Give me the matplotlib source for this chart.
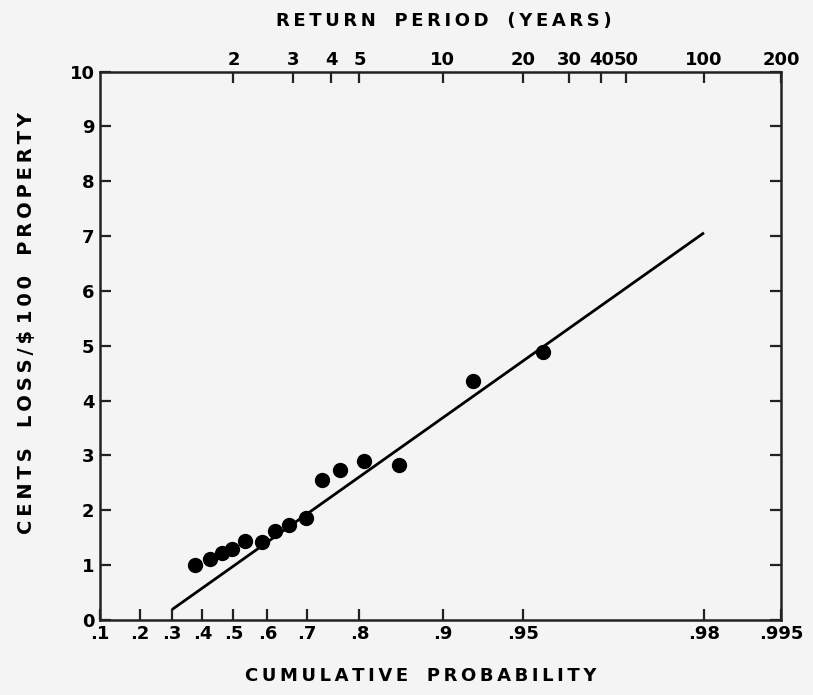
import numpy as np
import matplotlib.pyplot as plt

# valores (probabilidade acumulada x perda)
prob = [0.377, 0.424, 0.463, 0.494, 0.535, 0.584, 0.620, 0.656, 0.697,
        0.731, 0.767, 0.808, 0.855, 0.923, 0.958]
loss = [1.01, 1.12, 1.22, 1.30, 1.44, 1.43, 1.62, 1.73, 1.86,
        2.56, 2.73, 2.90, 2.82, 4.36, 4.89]

# reta ajustada (extremos)
fit_prob = [0.30, 0.99]
fit_loss = [0.19, 7.06]

prob_ticks = [0.1, 0.2, 0.3, 0.4, 0.5, 0.6, 0.7, 0.8, 0.9, 0.95, 0.99, 0.995]
prob_labels = ['.1', '.2', '.3', '.4', '.5', '.6', '.7', '.8', '.9', '.95', '.98', '.995']
period_ticks = [2, 3, 4, 5, 10, 20, 30, 40, 50, 100, 200]
period_labels = ['2', '3', '4', '5', '10', '20', '30', '40', '50', '100', '200']
loss_ticks = [0, 1, 2, 3, 4, 5, 6, 7, 8, 9, 10]


# escala de Gumbel (variavel reduzida)
def gumbel(p):
    p = np.clip(np.asarray(p, dtype=float), 1e-9, 1 - 1e-9)
    return -np.log(-np.log(p))


def gumbel_inv(y):
    return np.exp(-np.exp(-np.asarray(y, dtype=float)))


# espaco fino entre as letras, para imitar o letreiro espacado
def espacar(txt):
    return '\u2009'.join(txt)


plt.rcParams['font.family'] = 'DejaVu Sans'
plt.rcParams['font.weight'] = 'bold'

fig = plt.figure(figsize=(8.13, 6.95), dpi=100, facecolor='#f4f4f4')
ax = fig.add_axes([0.123, 0.108, 0.838, 0.789])
ax.set_facecolor('#f4f4f4')
ax.set_xscale('function', functions=(gumbel, gumbel_inv))
ax.set_xlim(0.1, 0.995)
ax.set_ylim(0, 10)

ax.plot(fit_prob, fit_loss, color='black', lw=2.0, solid_capstyle='butt')
ax.plot(prob, loss, 'o', color='black', ms=10, zorder=3)

for s in ax.spines.values():
    s.set_linewidth(1.8)
    s.set_color('#222222')

ax.set_xticks(prob_ticks)
ax.set_xticklabels(prob_labels)
ax.xaxis.set_minor_locator(plt.NullLocator())
ax.set_yticks(loss_ticks)
ax.set_yticklabels([str(v) for v in loss_ticks])
ax.tick_params(axis='both', direction='in', length=8, width=1.6,
               labelsize=13, pad=4, color='#222222')
ax.tick_params(axis='y', right=True)

# eixo superior: periodo de retorno
top = ax.twiny()
top.set_xscale('function', functions=(gumbel, gumbel_inv))
top.set_xlim(ax.get_xlim())
top.set_xticks([1 - 1 / t for t in period_ticks])
top.set_xticklabels(period_labels)
top.xaxis.set_minor_locator(plt.NullLocator())
top.tick_params(axis='x', direction='in', length=8, width=1.6,
                labelsize=13, pad=2, color='#222222')
for s in top.spines.values():
    s.set_visible(False)

fig.text(0.546, 0.970, espacar('RETURN') + '   ' + espacar('PERIOD') + '   ' + espacar('(YEARS)'),
         ha='center', va='center', fontsize=13, fontweight='bold')
fig.text(0.518, 0.028, espacar('CUMULATIVE') + '   ' + espacar('PROBABILITY'),
         ha='center', va='center', fontsize=13, fontweight='bold')
fig.text(0.032, 0.535, espacar('CENTS') + '   ' + espacar('LOSS/$') + ' ' + espacar('100') + '   ' + espacar('PROPERTY'),
         ha='center', va='center', rotation=90, fontsize=14, fontweight='bold')

fig.savefig('out.png', dpi=100, facecolor=fig.get_facecolor())
